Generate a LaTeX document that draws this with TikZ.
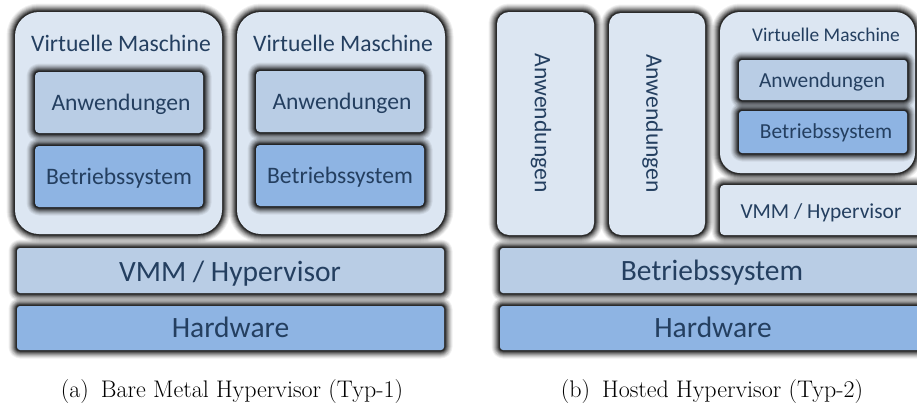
\documentclass[tikz,border=0pt]{standalone}
\usepackage{fontspec}
\newfontfamily\boxfont{Carlito}
\definecolor{fillpale}{HTML}{DCE6F2}
\definecolor{fillmid}{HTML}{B9CDE5}
\definecolor{filldeep}{HTML}{8EB4E3}
\definecolor{txtblue}{HTML}{243F60}
\begin{document}
\begin{tikzpicture}[x=1pt,y=-1pt,
  % soft dark halo: stacked translucent strokes, densest at the edge
  glow/.style={
    preaction={draw=black,draw opacity=.06,line width=17pt,fill=none},
    preaction={draw=black,draw opacity=.08,line width=15pt,fill=none},
    preaction={draw=black,draw opacity=.10,line width=13pt,fill=none},
    preaction={draw=black,draw opacity=.13,line width=11pt,fill=none},
    preaction={draw=black,draw opacity=.17,line width=9pt,fill=none},
    preaction={draw=black,draw opacity=.22,line width=7pt,fill=none},
    preaction={draw=black,draw opacity=.30,line width=5pt,fill=none},
    preaction={draw=black,draw opacity=.45,line width=3pt,fill=none}},
  box/.style={glow,rectangle,inner sep=0pt,outer sep=0pt,line join=round},
  lbl/.style={text=txtblue,inner sep=0pt,anchor=base},
  fbig/.style={font=\boxfont\fontsize{29.5}{34}\selectfont},
  fmid/.style={font=\boxfont\fontsize{23.6}{28}\selectfont},
  fsmall/.style={font=\boxfont\fontsize{21.4}{25}\selectfont},
  ftiny/.style={font=\boxfont\fontsize{19.4}{23}\selectfont},
  capt/.style={font=\fontsize{24}{28}\selectfont,inner sep=0pt,anchor=base}
]
\useasboundingbox (0,0) rectangle (917,407);
\clip (0,0) rectangle (917,407);

% ---------- (a) bare metal hypervisor ----------
\node[box,fill=fillpale,rounded corners=24pt,minimum width=207pt,minimum height=222pt] (vmA) at (118.5,123) {};
\node[lbl,fmid] (vmAt) at (121,51.5) {Virtuelle Maschine};
\node[box,fill=fillmid,rounded corners=4pt,minimum width=168pt,minimum height=61pt] (appA) at (119,102.5) {};
\node[lbl,fmid] (appAt) at (121,110) {Anwendungen};
\node[box,fill=filldeep,rounded corners=4pt,minimum width=168pt,minimum height=61pt] (osA) at (119,176.5) {};
\node[lbl,fmid] (osAt) at (119,184) {Betriebssystem};

\node[box,fill=fillpale,rounded corners=24pt,minimum width=208pt,minimum height=222pt] (vmB) at (341,123) {};
\node[lbl,fmid] (vmBt) at (343,51.5) {Virtuelle Maschine};
\node[box,fill=fillmid,rounded corners=4pt,minimum width=168pt,minimum height=61pt] (appB) at (340,101.5) {};
\node[lbl,fmid] (appBt) at (342,109.5) {Anwendungen};
\node[box,fill=filldeep,rounded corners=4pt,minimum width=168pt,minimum height=61pt] (osB) at (340,175.5) {};
\node[lbl,fmid] (osBt) at (340,183) {Betriebssystem};

\node[box,fill=fillmid,rounded corners=3pt,minimum width=427pt,minimum height=45pt] (vmmA) at (230.5,270.5) {};
\node[lbl,fbig] (vmmAt) at (230,281) {VMM / Hypervisor};
\node[box,fill=filldeep,rounded corners=3pt,minimum width=427pt,minimum height=44pt] (hwA) at (230.5,328) {};
\node[lbl,fbig] (hwAt) at (230.5,337) {Hardware};

\node[capt] (capA) at (232,397) {(a)\hspace{0.5em}Bare Metal Hypervisor (Typ-1)};

% ---------- (b) hosted hypervisor ----------
\node[box,fill=fillpale,rounded corners=12pt,minimum width=97pt,minimum height=223pt] (hostApp1) at (545.5,123.5) {};
\node[text=txtblue,inner sep=0pt,fmid,rotate=-90] (hostApp1t) at (541,123) {Anwendungen};
\node[box,fill=fillpale,rounded corners=12pt,minimum width=96pt,minimum height=222pt] (hostApp2) at (657,124) {};
\node[text=txtblue,inner sep=0pt,fmid,rotate=-90] (hostApp2t) at (652.5,123.5) {Anwendungen};

\node[box,fill=fillpale,rounded corners=20pt,minimum width=195pt,minimum height=161pt] (vmC) at (817.5,92.5) {};
\node[lbl,ftiny] (vmCt) at (826,41.7) {Virtuelle Maschine};
\node[box,fill=fillmid,rounded corners=3pt,minimum width=168pt,minimum height=40pt] (appC) at (823,80) {};
\node[lbl,fsmall] (appCt) at (822,87.3) {Anwendungen};
\node[box,fill=filldeep,rounded corners=3pt,minimum width=168pt,minimum height=42pt] (osC) at (823,132) {};
\node[lbl,fsmall] (osCt) at (826,138.3) {Betriebssystem};

\node[box,fill=fillpale,rounded corners=4pt,minimum width=204pt,minimum height=50pt] (vmmC) at (822,210) {};
\node[lbl,fsmall] (vmmCt) at (821,218.3) {VMM / Hypervisor};

\node[box,fill=fillmid,rounded corners=3pt,minimum width=426pt,minimum height=45pt] (hostOS) at (713,270.5) {};
\node[lbl,fbig] (hostOSt) at (712,280.5) {Betriebssystem};
\node[box,fill=filldeep,rounded corners=3pt,minimum width=426pt,minimum height=44pt] (hwC) at (713,328) {};
\node[lbl,fbig] (hwCt) at (713,337) {Hardware};

\node[capt] (capB) at (712,397) {(b)\hspace{0.5em}Hosted Hypervisor (Typ-2)};
\end{tikzpicture}
\end{document}
